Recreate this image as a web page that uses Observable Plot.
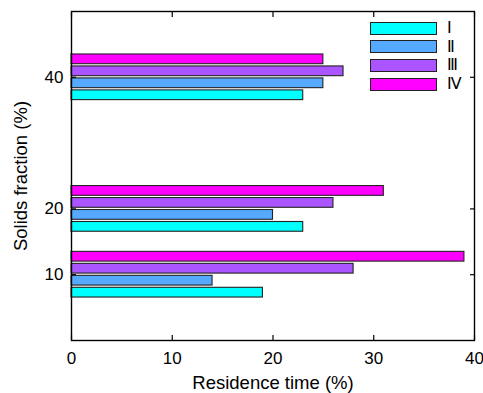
<!DOCTYPE html>
<html><head><meta charset="utf-8">
<script src="https://cdn.jsdelivr.net/npm/d3@7"></script>
<script src="https://cdn.jsdelivr.net/npm/@observablehq/plot@0.6"></script>
<style>
body{margin:0;background:#fff;}
#wrap{position:relative;width:483px;height:393px;font-family:"Liberation Sans",Arial,sans-serif;}
#wrap svg text{font-family:"Liberation Sans",Arial,sans-serif;font-variant:normal;}
#legend{position:absolute;left:370px;top:19px;}
.row{display:flex;align-items:center;height:18.6px;}
.sw{width:65px;height:11px;border:1.2px solid #222;box-sizing:content-box;}
.lb{margin-left:10px;font-family:"DejaVu Sans",sans-serif;font-size:15.8px;line-height:18.4px;color:#000;}
</style></head><body><div id="wrap"></div>
<script>
const fractions = [10, 20, 40];
const series = ["Ⅰ", "Ⅱ", "Ⅲ", "Ⅳ"];
const colors = ["#00FFFF", "#55AAFF", "#AA55FF", "#FF00FF"];
const valuesI = [19, 23, 23];
const valuesII = [14, 20, 25];
const valuesIII = [28, 26, 27];
const valuesIV = [39, 31, 25];
const xTicks = [0, 10, 20, 30, 40];
const yTicks = [10, 20, 40];

const allValues = [valuesI, valuesII, valuesIII, valuesIV];
const rows = [];
series.forEach((s, i) => {
  fractions.forEach((f, j) => {
    rows.push({series: s, idx: i, fraction: f, value: allValues[i][j]});
  });
});
const step = 1.82, half = 0.74;

const plot = Plot.plot({
  width: 483, height: 393,
  marginLeft: 71, marginRight: 9, marginTop: 11, marginBottom: 53,
  style: {fontFamily: "Liberation Sans, Arial, sans-serif", fontSize: "17px", color: "#000", background: "white"},
  x: {domain: [0, 40], label: null},
  y: {domain: [0, 50], label: null},
  color: {domain: series, range: colors},
  marks: [
    Plot.rect(rows, {
      x1: 0, x2: "value",
      y1: d => d.fraction + (d.idx - 1.5) * step - half,
      y2: d => d.fraction + (d.idx - 1.5) * step + half,
      fill: "series", stroke: "#222", strokeWidth: 1.1
    }),
    Plot.frame({stroke: "#000", strokeWidth: 1.4}),
    Plot.axisX(xTicks, {anchor: "bottom", tickSize: 5, dy: -5, text: null, label: null, strokeWidth: 1.2}),
    Plot.axisX(xTicks, {anchor: "top", tickSize: 5, dy: 5, text: null, label: null, strokeWidth: 1.2}),
    Plot.axisY(yTicks, {anchor: "left", tickSize: 5, dx: 5, text: null, label: null, strokeWidth: 1.2}),
    Plot.axisY(yTicks, {anchor: "right", tickSize: 5, dx: -5, text: null, label: null, strokeWidth: 1.2}),
    Plot.axisX(xTicks, {anchor: "bottom", tickSize: 0, tickPadding: 11, fontSize: 17, fontFamily: "Liberation Sans",
      label: "Residence time (%)", labelAnchor: "center", labelOffset: 48, labelArrow: "none"}),
    Plot.axisY(yTicks, {anchor: "left", tickSize: 0, tickPadding: 8, fontSize: 17, fontFamily: "Liberation Sans",
      label: "Solids fraction (%)", labelAnchor: "center", labelOffset: 58, labelArrow: "none"})
  ]
});
const wrap = document.getElementById("wrap");
wrap.appendChild(plot);
plot.querySelectorAll("g[aria-label='x-axis label'] text, g[aria-label='y-axis label'] text, g[aria-label$='axis label']").forEach(t => t.setAttribute("font-size", "18.5"));

const legend = document.createElement("div");
legend.id = "legend";
series.forEach((s, i) => {
  const r = document.createElement("div"); r.className = "row";
  const sw = document.createElement("div"); sw.className = "sw"; sw.style.background = colors[i];
  const lb = document.createElement("span"); lb.className = "lb"; lb.textContent = s;
  r.appendChild(sw); r.appendChild(lb); legend.appendChild(r);
});
wrap.appendChild(legend);
</script></body></html>
